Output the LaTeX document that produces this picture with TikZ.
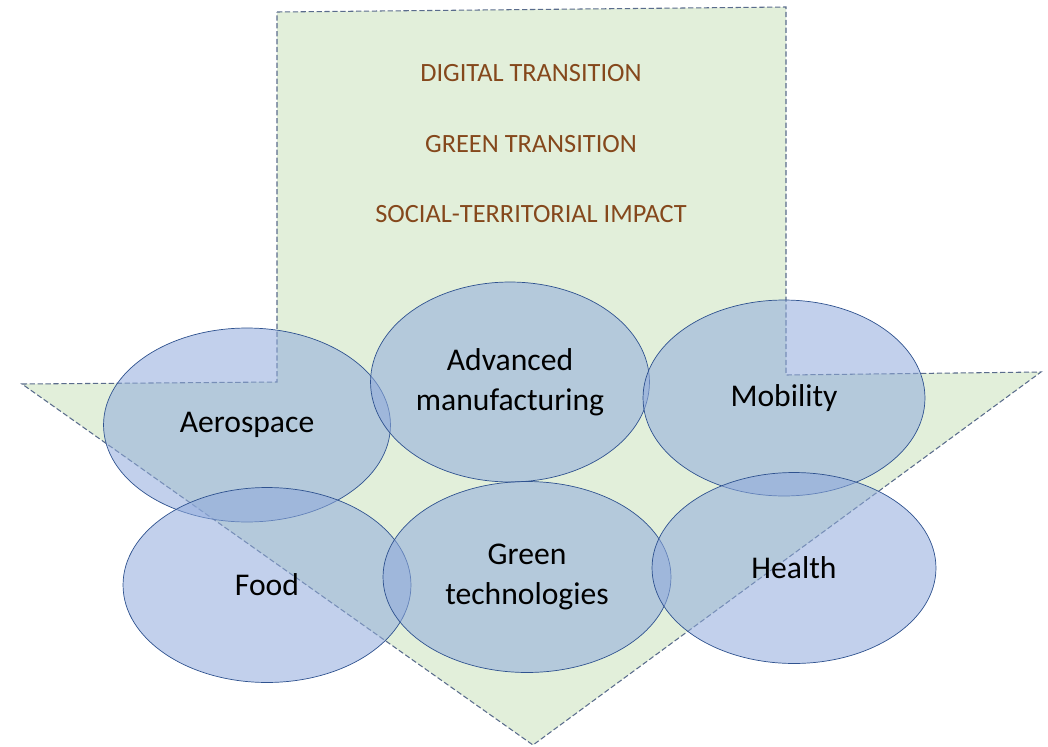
\documentclass[tikz,border=0pt]{standalone}
\usepackage{fontspec}
\setmainfont{Carlito}
\usetikzlibrary{shapes.geometric}

\definecolor{arrowgreen}{RGB}{226,239,218}
\definecolor{arrowline}{RGB}{90,108,140}
\definecolor{sectorblue}{RGB}{143,170,220}
\definecolor{sectorline}{RGB}{47,82,143}
\definecolor{transbrown}{RGB}{133,72,28}

\tikzset{
  sector/.style={ellipse, draw=sectorline, thin, fill=sectorblue, fill opacity=0.55,
    text opacity=1, inner sep=0pt, align=center,
    font=\fontsize{18}{23}\selectfont},
  transition/.style={text=transbrown, font=\fontsize{15}{17}\selectfont}
}

\begin{document}
\begin{tikzpicture}[x=0.02cm, y=-0.02cm]
                \useasboundingbox (0,0) rectangle (1048,747);

                % Big arrow pointing down
                \draw[draw=arrowline, fill=arrowgreen, dash pattern=on 3pt off 1.5pt, line width=0.6pt]
                    (277,12) -- (786,7) -- (786,375) -- (1041,372) -- (533,745)
                    -- (22,384) -- (277,382) -- cycle;

                % Transitions
                \node[transition] (digital) at (531,73) {DIGITAL TRANSITION};
                \node[transition] (green) at (531,144) {GREEN TRANSITION};
                \node[transition] (social) at (531,214) {SOCIAL-TERRITORIAL IMPACT};

                % Sectors, top row
                \node[sector, minimum width=5.74cm, minimum height=3.88cm] (aero) at (247,425) {Aerospace};
                \node[sector, minimum width=5.58cm, minimum height=4.00cm] (manuf) at (510,382) {Advanced\\manufacturing};
                \node[sector, minimum width=5.64cm, minimum height=3.92cm] (mobil) at (784,398) {Mobility};

                % Sectors, bottom row
                \node[sector, minimum width=5.76cm, minimum height=3.90cm] (food) at (267,585) {Food};
                \node[sector, minimum width=5.76cm, minimum height=3.82cm] (greentech) at (527,577) {Green\\technologies};
                \node[sector, minimum width=5.68cm, minimum height=3.82cm] (health) at (794,568) {Health};
            \end{tikzpicture}
\end{document}
